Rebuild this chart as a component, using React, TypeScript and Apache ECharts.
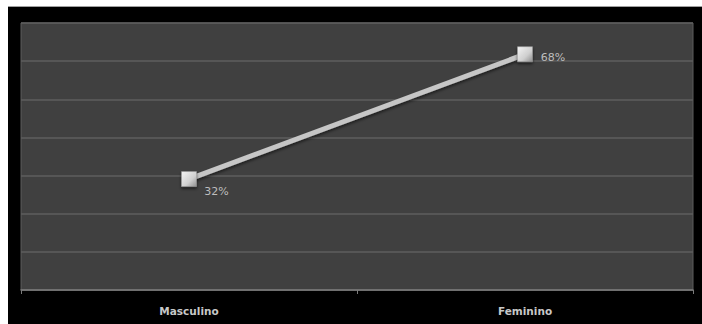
import React, { useEffect, useRef } from "react";
import * as echarts from "echarts";

// Gender split shown as a two-point line
const categories: string[] = ["Masculino", "Feminino"];
const shares: number[] = [32, 68];

// Value axis scale (labels hidden, seven gridline bands)
const axisMin = 0;
const axisMax = 77;
const axisStep = 11;

export default function App() {
  const ref = useRef<HTMLDivElement>(null);

  useEffect(() => {
    if (!ref.current) return;
    const chart = echarts.init(ref.current, null, { renderer: "svg" });

    const labelFor = (i: number) =>
      i === 0
        ? { position: [23, 15] as [number, number] }
        : { position: "right" as const, distance: 8, offset: [0, 3] as [number, number] };

    chart.setOption({
      animation: false,
      backgroundColor: "#000000",
      grid: {
        left: 13,
        right: 9,
        top: 16,
        bottom: 34,
        show: true,
        backgroundColor: "#404040",
        borderColor: "#5c5c5c",
        borderWidth: 1,
      },
      xAxis: {
        type: "category",
        data: categories,
        boundaryGap: true,
        axisLine: { show: true, lineStyle: { color: "#7a7a7a", width: 1.5 } },
        axisTick: { show: true, length: 4, lineStyle: { color: "#7a7a7a" } },
        axisLabel: {
          color: "#c8c8c8",
          fontFamily: "DejaVu Sans",
          fontSize: 10.5,
          fontWeight: "bold",
          margin: 15,
        },
      },
      yAxis: {
        type: "value",
        min: axisMin,
        max: axisMax,
        interval: axisStep,
        axisLabel: { show: false },
        axisLine: { show: false },
        axisTick: { show: false },
        splitLine: { show: true, lineStyle: { color: "#5e5e5e", width: 1.5 } },
      },
      series: [
        {
          type: "line",
          data: shares.map((v, i) => ({
            value: v,
            label: {
              show: true,
              formatter: `${v}%`,
              color: "#bdbdbd",
              fontFamily: "DejaVu Sans",
              fontSize: 11,
              ...labelFor(i),
            },
          })),
          symbol: "rect",
          symbolSize: 15,
          lineStyle: {
            color: "#c6c6c6",
            width: 5,
            shadowColor: "rgba(0,0,0,0.55)",
            shadowBlur: 3,
            shadowOffsetY: 2,
          },
          itemStyle: {
            color: new echarts.graphic.LinearGradient(0, 0, 1, 1, [
              { offset: 0, color: "#f4f4f4" },
              { offset: 0.6, color: "#cfcfcf" },
              { offset: 1, color: "#8e8e8e" },
            ]),
            borderColor: "#9a9a9a",
            borderWidth: 0.5,
            shadowColor: "rgba(0,0,0,0.6)",
            shadowBlur: 3,
            shadowOffsetY: 2,
          },
          z: 3,
        },
      ],
    });

    return () => chart.dispose();
  }, []);

  return (
    <div
      style={{
        position: "absolute",
        left: 8,
        top: 6,
        width: 694,
        height: 318,
        borderTop: "1px solid #a0a0a0",
        boxSizing: "border-box",
      }}
    >
      <div ref={ref} style={{ width: 694, height: 317 }} />
    </div>
  );
}
